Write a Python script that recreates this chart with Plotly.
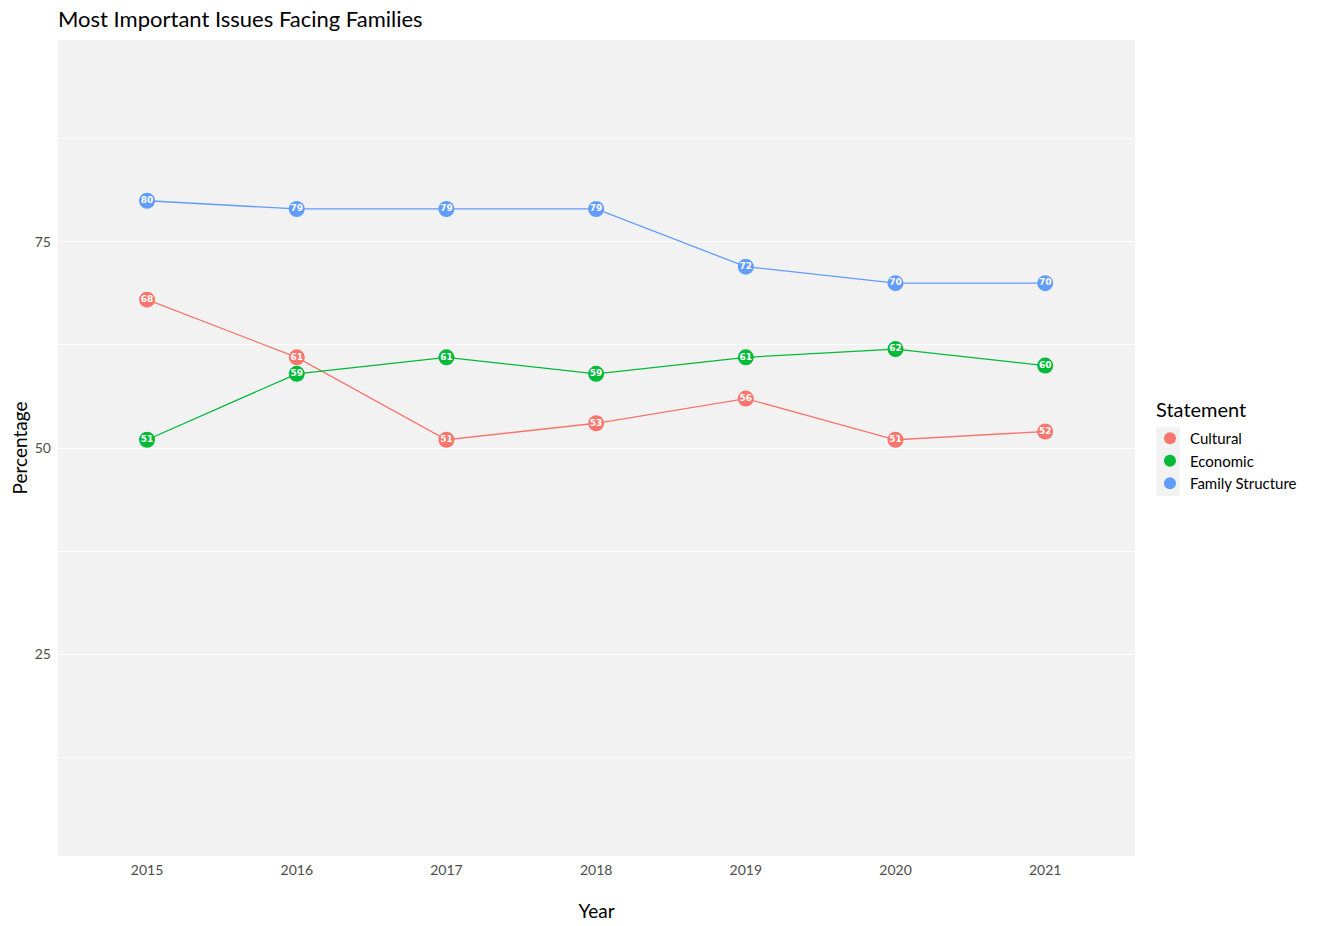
import plotly.graph_objects as go

years = [2015, 2016, 2017, 2018, 2019, 2020, 2021]
cultural = [68, 61, 51, 53, 56, 51, 52]
economic = [51, 59, 61, 59, 61, 62, 60]
family = [80, 79, 79, 79, 72, 70, 70]

series = [("Cultural", cultural, "#F8766D"),
          ("Economic", economic, "#00BA38"),
          ("Family Structure", family, "#619CFF")]

FONT = "Lato, 'Open Sans', sans-serif"
W, H = 1320, 926
OFF = 8  # page body margin
L, R, T, B = 58 - OFF, 185 + OFF, 40 - OFF, 70 + OFF
pw = W - L - R
ph = H - T - B


def px_x(x):
    return (x - OFF - L) / pw


def px_y(y):
    return 1 - (y - OFF - T) / ph


fig = go.Figure()
for name, vals, col in series:
    fig.add_trace(go.Scatter(
        x=years, y=vals, name=name, mode="lines+markers+text", showlegend=False,
        line=dict(color=col, width=1.3),
        marker=dict(color=col, size=16),
        text=[str(v) for v in vals], textposition="middle center",
        textfont=dict(color="white", size=9, family="DejaVu Sans, sans-serif", weight="bold"),
    ))
for name, vals, col in series:
    fig.add_trace(go.Scatter(
        x=[None], y=[None], name=name, mode="markers",
        marker=dict(color=col, size=16), showlegend=True,
    ))

# legend key background (ggplot style)
fig.add_shape(type="rect", xref="paper", yref="paper",
              x0=px_x(1156), x1=px_x(1180), y0=px_y(496), y1=px_y(427),
              fillcolor="#F2F2F2", line=dict(width=0), layer="below")
fig.add_annotation(text="Statement", xref="paper", yref="paper",
                   x=px_x(1154), y=px_y(409), xanchor="left", yanchor="middle",
                   showarrow=False, font=dict(size=20, family=FONT, color="black"))
# chart title
fig.add_annotation(text="Most Important Issues Facing Families", xref="paper", yref="paper",
                   x=px_x(56), y=px_y(18), xanchor="left", yanchor="middle",
                   showarrow=False, font=dict(size=22, family=FONT, color="black"))

fig.update_layout(
    width=W, height=H,
    margin=dict(l=L, r=R, t=T, b=B),
    paper_bgcolor="white", plot_bgcolor="#F2F2F2",
    font=dict(family=FONT, color="black"),
    legend=dict(font=dict(size=15),
                x=px_x(1150), xanchor="left", y=px_y(461), yanchor="middle",
                tracegroupgap=0, itemsizing="constant", bgcolor="rgba(0,0,0,0)"),
    showlegend=True,
)
fig.update_xaxes(range=[2014.405, 2021.6], tickvals=years, showgrid=False, zeroline=False,
                 ticks="", tickfont=dict(size=14, color="#4D4D4D"), ticklabelstandoff=4,
                 title=dict(text="Year", font=dict(size=19), standoff=27))
fig.update_yaxes(range=[0.5, 99.5], tickvals=[25, 50, 75], showgrid=True, gridcolor="white",
                 gridwidth=1.2, zeroline=False, ticks="",
                 tickfont=dict(size=14, color="#4D4D4D"), ticklabelstandoff=6,
                 minor=dict(tickvals=[12.5, 37.5, 62.5, 87.5], showgrid=True,
                            gridcolor="white", gridwidth=0.6),
                 title=dict(text="Percentage", font=dict(size=19), standoff=2))

fig.write_html("out.html", config={"displayModeBar": False})
